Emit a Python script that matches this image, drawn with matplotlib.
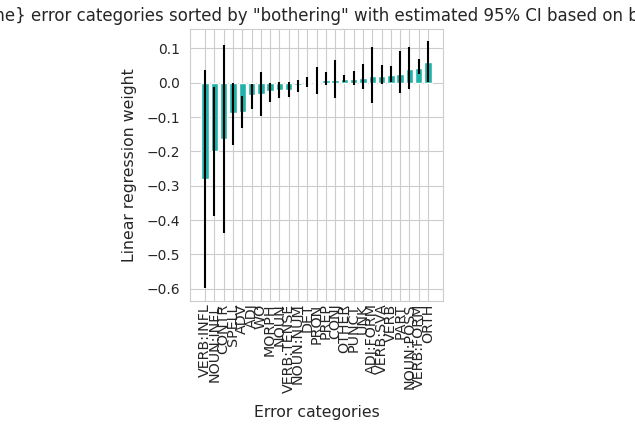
import numpy as np
import matplotlib
matplotlib.use("Agg")
import matplotlib.pyplot as plt
import seaborn as sns

# error categories, sorted by regression weight
categories = ["VERB:INFL", "NOUN:INFL", "CONTR", "SPELL", "ADV", "ADJ", "WO",
              "MORPH", "NOUN", "VERB:TENSE", "NOUN:NUM", "DET", "PRON", "PREP",
              "CONJ", "OTHER", "PUNCT", "UNK", "ADJ:FORM", "VERB:SVA", "VERB",
              "PART", "NOUN:POSS", "VERB:FORM", "ORTH"]
weights = [-0.280, -0.200, -0.163, -0.089, -0.084, -0.036, -0.033,
           -0.025, -0.021, -0.020, -0.007, 0.002, 0.002, 0.008,
           0.009, 0.010, 0.012, 0.015, 0.019, 0.019, 0.022,
           0.027, 0.039, 0.042, 0.061]
ci_low = [-0.599, -0.388, -0.437, -0.181, -0.131, -0.075, -0.098,
          -0.057, -0.045, -0.040, -0.026, -0.011, -0.033, -0.007,
          -0.043, 0.003, -0.005, -0.019, -0.060, -0.003, 0.003,
          -0.029, -0.018, 0.025, 0.003]
ci_high = [0.037, -0.013, 0.111, 0.000, -0.039, -0.004, 0.031,
           -0.002, 0.003, 0.002, 0.009, 0.017, 0.046, 0.031,
           0.066, 0.022, 0.035, 0.056, 0.104, 0.052, 0.048,
           0.093, 0.104, 0.069, 0.121]

sns.set_style("whitegrid")

w = np.array(weights)
yerr = [w - np.array(ci_low), np.array(ci_high) - w]

fig = plt.figure(figsize=(6.35, 4.3), dpi=100)
ax = fig.add_axes([0.299, 0.3007, 0.399, 0.632])
ax.bar(categories, weights, width=0.8, color="lightseagreen")
ax.errorbar(categories, weights, yerr=yerr, fmt="none", ecolor="k", elinewidth=1.5)

ax.set_title('{feature_name} error categories sorted by "bothering" with '
             'estimated 95% CI based on bootstrapping', fontsize=12)
ax.set_xlabel("Error categories", fontsize=11.3, labelpad=9)
ax.set_ylabel("Linear regression weight", fontsize=11.3, labelpad=7)
ax.tick_params(axis="x", labelrotation=90, labelsize=10.3, length=0, pad=2)
ax.tick_params(axis="y", labelsize=10)

fig.savefig("out.png", dpi=100)
